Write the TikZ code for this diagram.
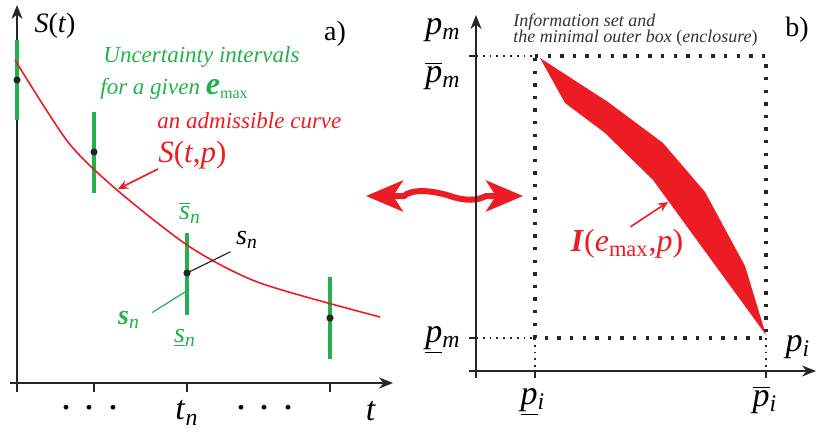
\documentclass[tikz,border=0pt]{standalone}
\usepackage{fontspec}
\setmainfont{Liberation Serif}
\usetikzlibrary{arrows.meta, positioning}
\definecolor{curvered}{HTML}{ED1C24}
\definecolor{ivgreen}{HTML}{22B14C}
\definecolor{notegrey}{HTML}{333333}
\tikzset{
  >={Stealth[length=7pt, width=5.5pt]},
  axis/.style={->, line width=0.9pt, draw=black!85},
  tickmark/.style={line width=0.9pt, draw=black!85},
  leader/.style={line width=0.6pt, draw=black!85},
  interval/.style={line width=2.2pt, draw=ivgreen},
  meas/.style={circle, fill=black!85, inner sep=0pt, minimum size=3.6pt},
  admcurve/.style={line width=0.8pt, draw=curvered},
  pointer/.style={-{Stealth[length=5pt, width=4.5pt]}, line width=0.8pt, draw=curvered},
  twoway/.style={{Stealth[length=18.5pt, width=15.5pt, inset=5pt]}-{Stealth[length=18.5pt, width=15.5pt, inset=5pt]},
                 line width=3pt, draw=curvered},
  boxline/.style={line width=1.7pt, line cap=butt, dash pattern=on 1.7pt off 4.6pt, draw=black!85},
  boxext/.style={line width=0.9pt, line cap=butt, dash pattern=on 0.9pt off 2.5pt, draw=black!85},
  lbl/.style={font=\fontsize{14}{16}\selectfont, inner sep=0pt},
  biglbl/.style={font=\fontsize{17}{19}\selectfont, inner sep=0pt},
  note/.style={font=\fontsize{11.5}{13}\selectfont\itshape, inner sep=0pt, anchor=base west},
  smallnote/.style={font=\fontsize{9}{10}\selectfont\itshape, text=notegrey, inner sep=0pt, anchor=base west},
}

\begin{document}
\begin{tikzpicture}[x=0.5pt, y=-0.5pt]
  \useasboundingbox (0,0) rectangle (817,433);
  % a) measurements, uncertainty intervals, an admissible curve
  \draw[axis] (10,383) -- (393,383);
  \draw[axis] (17,392) -- (17,5);
  \foreach \px in {94,187,330} \draw[tickmark] (\px,383) -- (\px,392);
  \node[lbl] (St) at (55,26) {\textit{S}(\textit{t})};
  \node[lbl] (pa) at (335,34) {a)};
  \foreach \name/\px/\ya/\yb/\ym in {s0/17/40/120/80, s1/94/112/193/152, s2/187/233/315/273, s3/330/277/359/318}{
    \draw[interval] (\px,\ya) -- (\px,\yb);
    \node[meas] (\name) at (\px,\ym) {};
  }
  \draw[admcurve] plot[smooth, tension=0.45] coordinates {(15,60) (68,142) (117,190) (190,247) (260,283) (380,317)};
  \node[note, text=ivgreen] (unc) at (103,63) {Uncertainty intervals};
  \node[note, text=ivgreen] (given) at (100,95) {for a given {\fontsize{16}{16}\selectfont\textbf{e}}\textsubscript{\upshape max}};
  \node[note, text=curvered] (adm) at (157,128) {an admissible curve};
  \node[lbl, anchor=base west, text=curvered, font=\fontsize{15.5}{17}\selectfont] (Stp) at (158,162) {\textit{S}(\textit{t},\textit{p})};
  \coordinate (oncurve) at (118,189);
  \draw[pointer] (Stp.south west) -- (oncurve);
  \node[lbl, text=ivgreen] (sup) at (190,213) {$\overline{\mbox{\textit{s}}}$\textsubscript{\textit{n}}};
  \node[lbl, text=ivgreen] (slo) at (185,338) {\underline{\textit{s}}\textsubscript{\textit{n}}};
  \node[lbl] (sn) at (247,240) {\textit{s}\textsubscript{\textit{n}}};
  \draw[leader, shorten >=3pt] (s2.center) -- (sn.south west);
  \node[lbl, text=ivgreen] (gsn) at (129,320) {\textbf{\textit{s}}\textsubscript{\textit{n}}};
  \coordinate (onbar) at (185,292);
  \draw[leader, draw=ivgreen, shorten <=7pt] (gsn.east) -- (onbar);
  \node[inner sep=0pt, font=\fontsize{20}{20}\selectfont] (dotsl) at (90,408) {. . .};
  \node[inner sep=0pt, font=\fontsize{20}{20}\selectfont] (dotsr) at (265,408) {. . .};
  \node[biglbl] (tn) at (187,413) {\textit{t}\textsubscript{\textit{n}}};
  \node[biglbl] (tt) at (371,411) {\textit{t}};

  % link between the two panels
  \draw[twoway] (366,196) -- (404,196) .. controls (411,189) and (432,190) .. (450,196)
                .. controls (468,202) and (478,200) .. (486,196) -- (523,196);

  % b) information set in the parameter plane
  \draw[axis] (469,371) -- (816,371);
  \draw[axis] (476,378) -- (476,15);
  \foreach \px in {535,766} \draw[tickmark] (\px,371) -- (\px,378);
  \foreach \py in {56,338} \draw[tickmark] (469,\py) -- (476,\py);
  \draw[boxline] (535,56) -- (766,56) -- (766,338) -- (535,338) -- cycle;
  \draw[boxext] (476,56) -- (535,56) (476,338) -- (535,338) (535,338) -- (535,371) (766,338) -- (766,371);
  \fill[curvered] (540,58) -- (608,102) -- (663,143) -- (705,192) -- (745,266) -- (766,335)
                  -- (653,180) -- (605,133) -- (565,103) -- cycle;
  \node[lbl, text=curvered, font=\fontsize{16}{18}\selectfont] (Iset) at (627,244) {\textbf{\textit{I}}(\textit{e}\textsubscript{max},\textit{p})};
  \coordinate (onband) at (668,202);
  \draw[pointer, shorten <=2pt] (Iset.north) -- (onband);
  \node[smallnote] (info1) at (513,27) {Information set and};
  \node[smallnote] (info2) at (513,43) {the minimal outer box \textup{(}enclosure\textup{)}};
  \node[lbl] (pb) at (797,30) {b)};
  \node[biglbl] (pm) at (443,30) {\textit{p}\textsubscript{\textit{m}}};
  \node[biglbl] (pmup) at (443,76) {$\overline{\mbox{\textit{p}}}$\textsubscript{\textit{m}}};
  \node[biglbl] (pmlo) at (443,340) {\underline{\textit{p}}\textsubscript{\textit{m}}};
  \node[biglbl] (pilo) at (533,402) {\underline{\textit{p}}\textsubscript{\textit{i}}};
  \node[biglbl] (piup) at (765,400) {$\overline{\mbox{\textit{p}}}$\textsubscript{\textit{i}}};
  \node[biglbl] (pi) at (798,347) {\textit{p}\textsubscript{\textit{i}}};
\end{tikzpicture}
\end{document}
